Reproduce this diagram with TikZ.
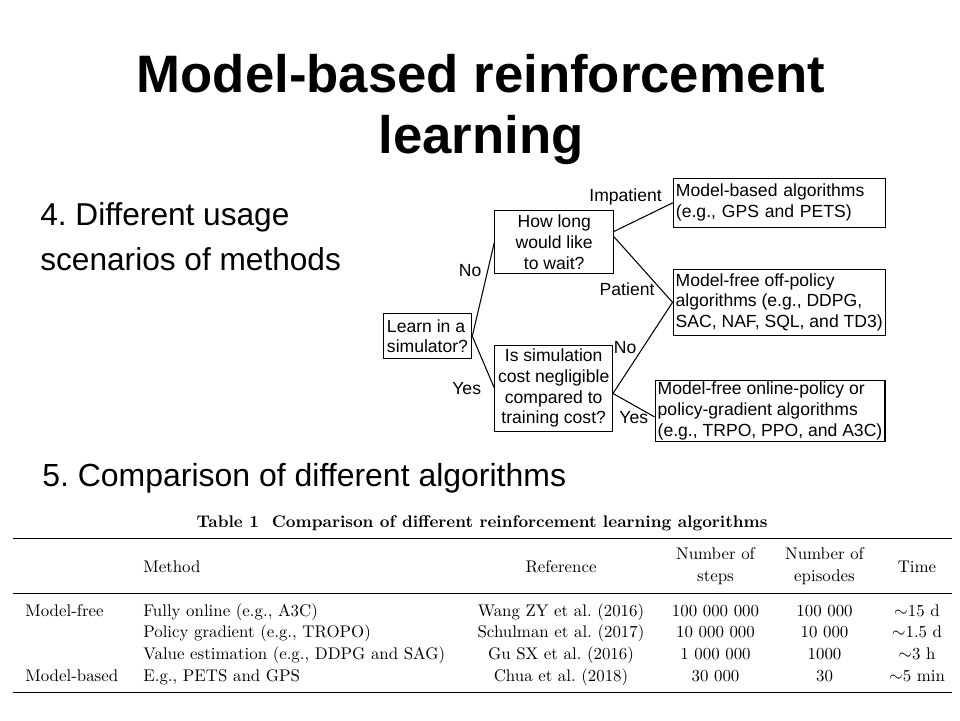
\documentclass[tikz,border=0pt]{standalone}
\usepackage{fontspec}
\newfontfamily\slidefont{Liberation Sans}
\usepackage{tikz}
\usetikzlibrary{positioning, calc}
\tikzstyle{question} = [rectangle,
draw=black, line width=0.6pt,
align=center,
inner sep=1pt,
font=\slidefont\fontsize{10}{11.8}\selectfont]
\tikzstyle{result} = [rectangle,
draw=black, line width=0.6pt,
align=left,
inner xsep=1.5pt, inner ysep=1pt,
font=\slidefont\fontsize{10}{11.8}\selectfont]
\tikzstyle{link} = [line width=0.6pt]
\tikzstyle{branch} = [font=\slidefont\fontsize{10}{12}\selectfont]
\tikzstyle{cell} = [anchor=base, inner sep=0pt, font=\fontsize{9.6}{12.4}\selectfont]
\tikzstyle{heading} = [font=\slidefont\fontsize{18}{25.6}\selectfont, inner sep=0pt]

\begin{document}
\frenchspacing
\begin{tikzpicture}[x=0.02cm, y=-0.02cm]
            \fill[white] (0,0) rectangle (960,720);
            \useasboundingbox (0,0) rectangle (960,720);

            \node (title) [font=\slidefont\bfseries\fontsize{30}{34.6}\selectfont, align=center, anchor=base] at (481,153) {Model-based reinforcement\\learning};
            \node (usage) [heading, align=left, anchor=base west] at (40,270) {4. Different usage\\scenarios of methods};
            \node (compare) [heading, font=\slidefont\fontsize{18.2}{25.6}\selectfont, anchor=base west] at (42,486) {5. Comparison of different algorithms};

            \node (learn) [question, minimum width=1.77cm, minimum height=0.89cm, align=left] at (427.5,336.2) {Learn in a\\simulator?};
            \node (wait) [question, minimum width=2.37cm, minimum height=1.25cm] at (554.2,242) {How long\\would like\\to wait?};
            \node (cost) [question, minimum width=2.35cm, minimum height=1.73cm] at (553.7,388.3) {Is simulation\\cost negligible\\compared to\\training cost?};
            \node (modelbased) [result, text width=4.13cm, minimum height=0.98cm] at (779.2,202.8) {Model-based algorithms\\(e.g., GPS and PETS)};
            \node (offpolicy) [result, minimum width=4.23cm, minimum height=1.33cm] at (779.2,302.3) {Model-free off-policy\\algorithms (e.g., DDPG,\\SAC, NAF, SQL, and TD3)};
            \node (onpolicy) [result, minimum width=4.6cm, minimum height=1.23cm] at (770,410.8) {Model-free online-policy or\\policy-gradient algorithms\\(e.g., TRPO, PPO, and A3C)};

            \draw [link] (learn.east) -- node[branch, pos=0.7, left] {No} (wait.west);
            \draw [link] (learn.east) -- node[branch, pos=1, left=4pt] {Yes} (cost.west);
            \draw [link] (wait.10) -- node[branch, pos=0.85, above left, inner sep=1pt] {Impatient} (modelbased.west);
            \draw [link] (wait.5) -- node[branch, pos=0.8, left] {Patient} (offpolicy.west);
            \draw [link] (cost.-5) -- node[branch, pos=0.5, left] {No} (offpolicy.west);
            \draw [link] (cost.-5) -- node[branch, pos=0.5, below] {Yes} (onpolicy.-177);

            \node (caption) [cell, font=\bfseries\fontsize{9.6}{12.4}\selectfont] at (482,527.3) {Table 1\ \ Comparison of different reinforcement learning algorithms};
            \draw [line width=0.9pt] (12.7,538.3) -- (951.7,538.3);
            \draw [line width=0.5pt] (12.7,593.3) -- (951.7,593.3);
            \draw [line width=0.9pt] (12.7,692.7) -- (951.7,692.7);

            \node (hmethod) [cell, anchor=base west] at (143,572) {Method};
            \node (href) [cell] at (561,572) {Reference};
            \node (hsteps) [cell, align=center] at (715.5,581.7) {Number of\\steps};
            \node (hepisodes) [cell, align=center] at (824.5,581.7) {Number of\\episodes};
            \node (htime) [cell] at (917,572) {Time};

            \node (free) [cell, anchor=base west] at (25,616) {Model-free};
            \node (based) [cell, anchor=base west] at (25,681.7) {Model-based};

            \node (m1) [cell, anchor=base west] at (143,616) {Fully online (e.g., A3C)};
            \node (m2) [cell, anchor=base west] at (143,637.9) {Policy gradient (e.g., TROPO)};
            \node (m3) [cell, anchor=base west] at (143,659.8) {Value estimation (e.g., DDPG and SAG)};
            \node (m4) [cell, anchor=base west] at (143,681.7) {E.g., PETS and GPS};

            \node (r1) [cell] at (561,616) {Wang ZY et al. (2016)};
            \node (r2) [cell] at (561,637.9) {Schulman et al. (2017)};
            \node (r3) [cell] at (561,659.8) {Gu SX et al. (2016)};
            \node (r4) [cell] at (561,681.7) {Chua et al. (2018)};

            \node (s1) [cell] at (715.5,616) {100 000 000};
            \node (s2) [cell] at (715.5,637.9) {10 000 000};
            \node (s3) [cell] at (715.5,659.8) {1 000 000};
            \node (s4) [cell] at (715.5,681.7) {30 000};

            \node (e1) [cell] at (824.5,616) {100 000};
            \node (e2) [cell] at (824.5,637.9) {10 000};
            \node (e3) [cell] at (824.5,659.8) {1000};
            \node (e4) [cell] at (824.5,681.7) {30};

            \node (t1) [cell] at (917,616) {$\sim$15 d};
            \node (t2) [cell] at (917,637.9) {$\sim$1.5 d};
            \node (t3) [cell] at (917,659.8) {$\sim$3 h};
            \node (t4) [cell] at (917,681.7) {$\sim$5 min};
        \end{tikzpicture}
\end{document}
